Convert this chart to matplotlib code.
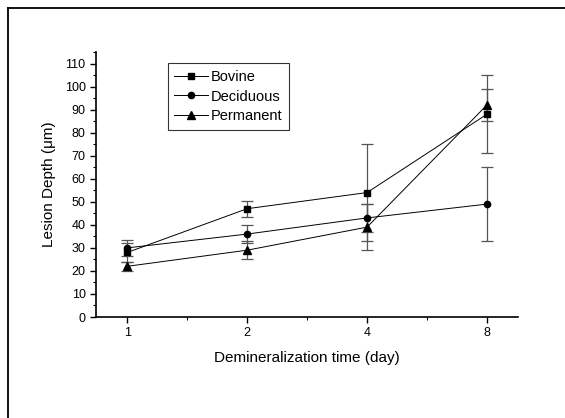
import matplotlib.pyplot as plt
from matplotlib.lines import Line2D
from matplotlib.ticker import MultipleLocator

plt.rcParams['font.family'] = ['Liberation Sans', 'DejaVu Sans']

days = ['1', '2', '4', '8']
bovine = [28, 47, 54, 88]
bovine_err = [4, 3.5, 21, 17]
deciduous = [30, 36, 43, 49]
deciduous_err = [3.5, 4, 6, 16]
permanent = [22, 29, 39, 92]
permanent_err = [2, 4, 10, 7]

x = list(range(len(days)))

fig = plt.figure(figsize=(5.65, 4.18), dpi=100)
ax = fig.add_axes([0.170, 0.2416, 0.747, 0.634])

series = [
    ('Bovine', bovine, bovine_err, 's', 4.5),
    ('Deciduous', deciduous, deciduous_err, 'o', 4.5),
    ('Permanent', permanent, permanent_err, '^', 5.5),
]
for name, vals, errs, mk, ms in series:
    ax.errorbar(x, vals, yerr=errs, fmt='none', ecolor='#555555',
                elinewidth=0.9, capsize=4.5, capthick=0.9, zorder=2)
    ax.plot(x, vals, color='black', linewidth=0.7, marker=mk,
            markersize=ms, label=name, zorder=3)

ax.set_xlim(-0.26, 3.26)
ax.set_ylim(0, 115)
ax.set_xticks(x)
ax.set_xticklabels(days)
ax.xaxis.set_minor_locator(MultipleLocator(0.5))
ax.yaxis.set_major_locator(MultipleLocator(10))
ax.yaxis.set_minor_locator(MultipleLocator(5))
ax.tick_params(which='major', direction='out', length=4, width=1, labelsize=9)
ax.tick_params(which='minor', direction='out', length=2, width=0.8)
ax.spines['top'].set_visible(False)
ax.spines['right'].set_visible(False)
ax.spines['left'].set_linewidth(1.2)
ax.spines['bottom'].set_linewidth(1.2)

ax.set_xlabel('Demineralization time (day)', fontsize=11, labelpad=8)
ax.set_ylabel('Lesion Depth (μm)', fontsize=11, labelpad=6)

leg = ax.legend(loc='upper left', bbox_to_anchor=(0.297, 0.849),
                bbox_transform=fig.transFigure, borderaxespad=0,
                fontsize=10.5, frameon=True, fancybox=False,
                edgecolor='black', handlelength=2.3, handletextpad=0.2,
                borderpad=0.45, labelspacing=0.4)
leg.get_frame().set_linewidth(0.8)

# scanned page frame
fig.add_artist(Line2D([8 / 565, 8 / 565], [0, 1 - 8 / 418], color='black', lw=1.3))
fig.add_artist(Line2D([8 / 565, 1], [1 - 8 / 418, 1 - 8 / 418], color='black', lw=1.3))

fig.savefig('out.png', dpi=100)
